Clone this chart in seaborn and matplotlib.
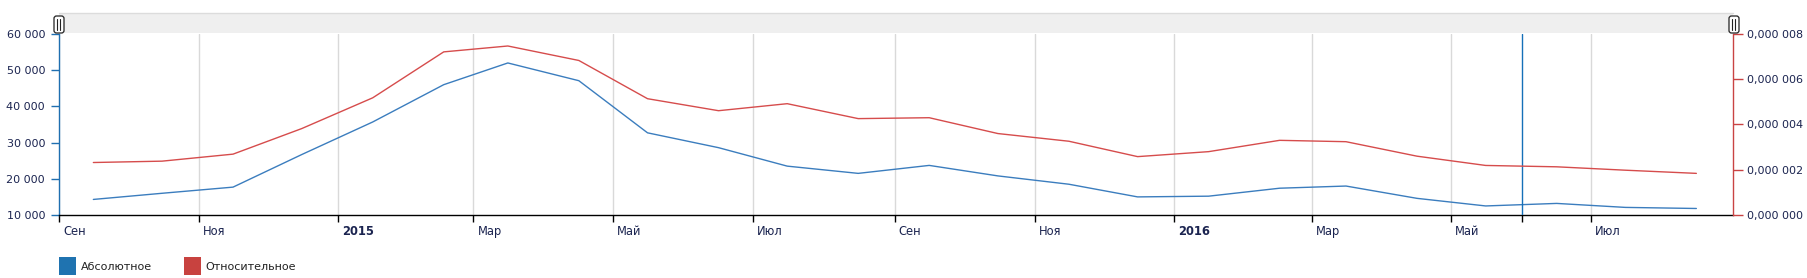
import numpy as np
import pandas as pd
import matplotlib
matplotlib.use("Agg")
import matplotlib.pyplot as plt
import matplotlib.patches as mpatches
import matplotlib.transforms as mtransforms
import matplotlib.dates as mdates
from matplotlib.ticker import FuncFormatter, FixedLocator
import seaborn as sns

# ---- data ----
months = [pd.Timestamp(f"{d.year}-{d.month:02d}-16") for d in pd.date_range("2014-09-01", "2016-08-01", freq="MS")]
absolute = [14300, 16000, 17700, 26700, 35700, 46000, 52000, 47100,
            32700, 28600, 23500, 21500, 23700, 20800, 18500, 15000,
            15200, 17400, 18000, 14600, 12500, 13200, 12100, 11800]
relative = [2.32e-6, 2.38e-6, 2.69e-6, 3.82e-6, 5.18e-6, 7.21e-6, 7.47e-6, 6.83e-6,
            5.14e-6, 4.61e-6, 4.92e-6, 4.26e-6, 4.30e-6, 3.60e-6, 3.26e-6, 2.58e-6,
            2.80e-6, 3.30e-6, 3.24e-6, 2.60e-6, 2.19e-6, 2.13e-6, 1.98e-6, 1.84e-6]
tick_dates = ["2014-09-01", "2014-11-01", "2015-01-01", "2015-03-01", "2015-05-01", "2015-07-01",
              "2015-09-01", "2015-11-01", "2016-01-01", "2016-03-01", "2016-05-01", "2016-07-01"]
tick_labels = ["Сен", "Ноя", "2015", "Мар", "Май", "Июл", "Сен", "Ноя", "2016", "Мар", "Май", "Июл"]
cursor_date = "2016-06-01"
x_range = ["2014-09-01", "2016-09-01"]
series_names = ["Абсолютное", "Относительное"]

df = pd.DataFrame({"date": pd.to_datetime(months), "abs": absolute, "rel": relative})

# ---- style ----
sns.set_style("white")
plt.rcParams["font.family"] = ["DejaVu Sans"]
plt.rcParams["font.size"] = 8

BLUE_LINE = "#3b7dbe"
RED_LINE = "#d64c4c"
BLUE_AX = "#1f6fb0"
RED_AX = "#c94343"
TXT = "#1b2450"

W, H = 1808, 278
fig = plt.figure(figsize=(W / 100, H / 100), dpi=100)
L, R, T, B = 59, 1733, 34, 215
ax = fig.add_axes([L / W, 1 - B / H, (R - L) / W, (B - T) / H])

sns.lineplot(data=df, x="date", y="abs", ax=ax, color=BLUE_LINE, lw=1.0)
ax2 = ax.twinx()
sns.lineplot(data=df, x="date", y="rel", ax=ax2, color=RED_LINE, lw=1.0)

ax.set_xlim(pd.Timestamp(x_range[0]), pd.Timestamp(x_range[1]))
ax.set_ylim(10000, 60000)
ax2.set_ylim(0, 8e-6)
ax.set_yticks(np.arange(10000, 60001, 10000))
ax2.set_yticks(np.arange(0, 8.01e-6, 2e-6))
ax.yaxis.set_major_formatter(FuncFormatter(lambda v, p: f"{int(v):,}".replace(",", " ")))

def relfmt(v, p):
    s = f"{v:.6f}"
    i, f = s.split(".")
    return f"{i},{f[:3]} {f[3:]}"
ax2.yaxis.set_major_formatter(FuncFormatter(relfmt))

for a in (ax, ax2):
    a.set_xlabel("")
    a.set_ylabel("")
    a.spines["top"].set_visible(False)

ax.spines["left"].set_color(BLUE_AX)
ax.spines["right"].set_visible(False)
ax.spines["bottom"].set_color("#000000")
ax2.spines["left"].set_visible(False)
ax2.spines["bottom"].set_visible(False)
ax2.spines["right"].set_color(RED_AX)
for s in ("left", "bottom"):
    ax.spines[s].set_linewidth(1.0)
ax2.spines["right"].set_linewidth(1.0)

tds = [pd.Timestamp(d) for d in tick_dates]
ax.xaxis.set_major_locator(FixedLocator(mdates.date2num(tds)))
ax.set_xticklabels(tick_labels)
ax.xaxis.set_minor_locator(FixedLocator([mdates.date2num(pd.Timestamp(cursor_date))]))
ax.tick_params(axis="x", which="both", direction="out", length=5, width=1, color="#000000",
               labelsize=8.3, labelcolor=TXT, pad=2, bottom=True)
ax.tick_params(axis="y", direction="out", length=6, width=1, color=BLUE_AX, labelsize=8,
               labelcolor=TXT, pad=4, left=True)
ax2.tick_params(axis="y", direction="out", length=7, width=1, color=RED_AX, labelsize=8,
                labelcolor=TXT, pad=3, right=True)

offset = mtransforms.ScaledTranslation(4 / 100, 0, fig.dpi_scale_trans)
for lab in ax.get_xticklabels():
    lab.set_horizontalalignment("left")
    lab.set_transform(lab.get_transform() + offset)
    if lab.get_text().isdigit():
        lab.set_fontweight("bold")

ax.grid(axis="x", which="major", color="#d9d9d9", lw=1.0)
ax.grid(axis="y", visible=False)
ax2.grid(False)
ax.set_axisbelow(True)
ax.axvline(pd.Timestamp(cursor_date), color="#1570b8", lw=1.0, zorder=5)

# scrollbar band (pixel coordinates, y measured from top)
px = mtransforms.Affine2D().scale(1 / W, 1 / H) + fig.transFigure
def fy(y):
    return H - y

fig.add_artist(mpatches.Rectangle((L, fy(33)), R - L, 20, transform=px,
                                  facecolor="#efefef", edgecolor="none", zorder=0))
fig.add_artist(plt.Line2D([L, R], [fy(13), fy(13)], transform=px, color="#dcdcdc", lw=1))
for hx in (54, 1729):
    fig.add_artist(mpatches.FancyBboxPatch((hx, fy(33)), 10, 17,
                                           boxstyle="round,pad=0,rounding_size=2.5",
                                           transform=px, facecolor="white", edgecolor="#222222",
                                           lw=0.9, zorder=3))
    for dx in (3.5, 6.5):
        fig.add_artist(plt.Line2D([hx + dx, hx + dx], [fy(30), fy(19)], transform=px,
                                  color="#222222", lw=0.8, zorder=4))

# legend
handles = [mpatches.Patch(facecolor="#1f73b0", edgecolor="none"),
           mpatches.Patch(facecolor="#c8423f", edgecolor="none")]
fig.legend(handles, series_names, loc="center left", bbox_to_anchor=(L / W, 12 / H),
           ncol=2, frameon=False, handlelength=1.53, handleheight=2.0, handletextpad=0.4,
           columnspacing=2.9, borderaxespad=0, borderpad=0, fontsize=8, labelcolor="#222222")

fig.savefig("out.png", dpi=100)
